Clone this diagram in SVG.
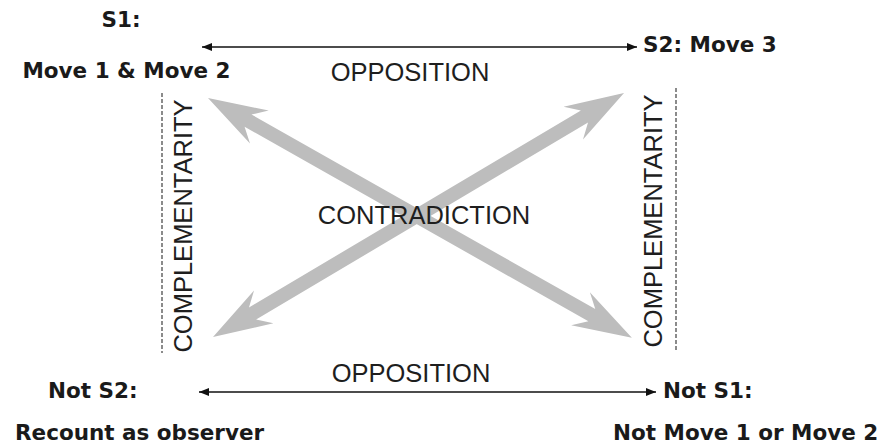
<svg xmlns="http://www.w3.org/2000/svg" width="882" height="446" viewBox="0 0 882 446">
<defs>
<style>
.lbl{font-family:"DejaVu Sans",Verdana,sans-serif;font-weight:bold;font-size:21.5px;fill:#1a1a1a}
.rel{font-family:"Liberation Sans",Arial,sans-serif;font-size:25.5px;fill:#1e1e1e}
.thin{stroke:#111;stroke-width:1.6;fill:none}
.dash{stroke:#666;stroke-width:1.5;stroke-dasharray:4 2;fill:none}
.big{fill:#bdbdbd}
</style>
<marker id="ah" viewBox="0 0 10 10" refX="10" refY="5" markerWidth="11" markerHeight="10" markerUnits="userSpaceOnUse" orient="auto-start-reverse">
<path d="M0,1 L10,5 L0,9 Z" fill="#111"/>
</marker>
</defs>
<rect width="882" height="446" fill="#fff"/>
<g id="connectors">
<path class="big" transform="translate(208,98) rotate(29.5)" d="M0,0 L59,-19 L46,-7 L441,-7 L428,-19 L487,0 L428,19 L441,7 L46,7 L59,19 Z"/>
<path class="big" transform="translate(213,337) rotate(-30.7)" d="M0,0 L59,-19 L46,-7 L432,-7 L419,-19 L478,0 L419,19 L432,7 L46,7 L59,19 Z"/>
<line class="thin" x1="202" y1="47" x2="637" y2="47" marker-start="url(#ah)" marker-end="url(#ah)"/>
<line class="thin" x1="199" y1="392" x2="656" y2="392" marker-start="url(#ah)" marker-end="url(#ah)"/>
<line class="dash" x1="162" y1="93" x2="162" y2="353"/>
<line class="dash" x1="676" y1="88" x2="676" y2="350"/>
<text class="rel" x="410" y="81" text-anchor="middle">OPPOSITION</text>
<text class="rel" x="411" y="382" text-anchor="middle">OPPOSITION</text>
<text class="rel" x="424" y="224" text-anchor="middle">CONTRADICTION</text>
<text class="rel" transform="translate(192,226) rotate(-90)" text-anchor="middle">COMPLEMENTARITY</text>
<text class="rel" transform="translate(662,221) rotate(-90)" text-anchor="middle">COMPLEMENTARITY</text>
</g>
<g id="s1">
<text class="lbl" x="121" y="27" text-anchor="middle">S1:</text>
<text class="lbl" x="126.5" y="78" text-anchor="middle">Move 1 &amp; Move 2</text>
</g>
<g id="s2">
<text class="lbl" x="643" y="52">S2: Move 3</text>
</g>
<g id="not-s2">
<text class="lbl" x="48" y="398">Not S2:</text>
<text class="lbl" x="15" y="440">Recount as observer</text>
</g>
<g id="not-s1">
<text class="lbl" x="663" y="398">Not S1:</text>
<text class="lbl" x="613" y="440">Not Move 1 or Move 2</text>
</g>
</svg>
